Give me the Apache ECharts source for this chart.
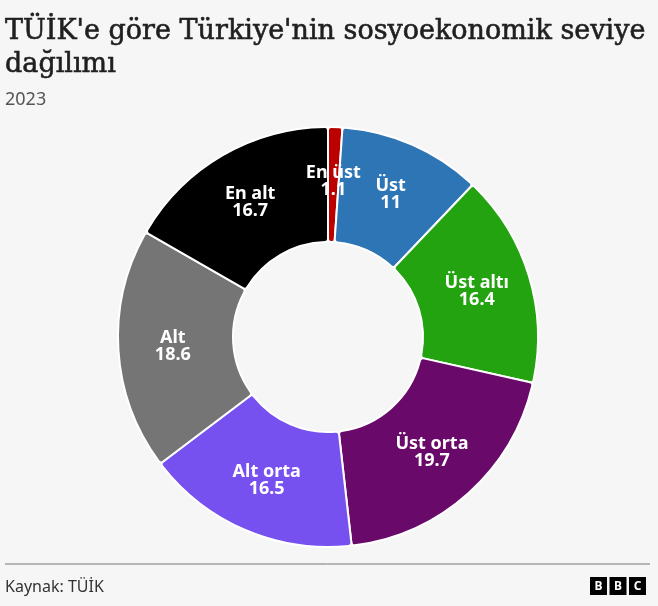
<!DOCTYPE html>
<html>
<head>
<meta charset="utf-8">
<script src="https://cdn.jsdelivr.net/npm/echarts@6/dist/echarts.min.js"></script>
<style>
html,body{margin:0;padding:0;background:#f6f6f6;}
#c{width:658px;height:606px;}
</style>
</head>
<body>
<div id="c"></div>
<script>
var categories = ['En üst', 'Üst', 'Üst altı', 'Üst orta', 'Alt orta', 'Alt', 'En alt'];
var values = [1.1, 11, 16.4, 19.7, 16.5, 18.6, 16.7];
var colors = ['#bb0000', '#2e75b6', '#22a30f', '#690a6b', '#7750f0', '#757575', '#000000'];

var chart = echarts.init(document.getElementById('c'));
var data = categories.map(function (c, i) {
  return { name: c, value: values[i], itemStyle: { color: colors[i] } };
});
var logo = [];
['B', 'B', 'C'].forEach(function (l, i) {
  var x = 590 + i * 19.5;
  logo.push({ type: 'rect', shape: { x: x, y: 577, width: 17, height: 18 }, style: { fill: '#000' } });
  logo.push({ type: 'text', x: x + 8.5, y: 586.5, style: { text: l, fill: '#fff', font: 'bold 12px "Noto Sans"', align: 'center', verticalAlign: 'middle' } });
});
chart.setOption({
  backgroundColor: '#f6f6f6',
  animation: false,
  title: [
    { text: "TÜİK'e göre Türkiye'nin sosyoekonomik seviye\ndağılımı", left: 0, top: 10,
      textStyle: { fontFamily: 'DejaVu Serif', fontSize: 27, fontWeight: 'normal', color: '#1f1f1f', lineHeight: 33,
        textBorderColor: '#1f1f1f', textBorderWidth: 0.6 } },
    { text: '2023', left: 0, top: 86,
      textStyle: { fontFamily: 'Noto Sans', fontSize: 18, fontWeight: 'normal', color: '#555' } }
  ],
  graphic: [
    { type: 'line', shape: { x1: 5, y1: 564, x2: 650, y2: 564 }, style: { stroke: '#777', lineWidth: 1 } },
    { type: 'text', x: 5, y: 587, style: { text: 'Kaynak: TÜİK', fill: '#333', font: '16px "Noto Sans"', verticalAlign: 'middle' } }
  ].concat(logo),
  series: [{
    type: 'pie',
    center: [328, 337],
    radius: [95, 210],
    startAngle: 90,
    clockwise: true,
    silent: true,
    itemStyle: { borderColor: '#ffffff', borderWidth: 2, borderRadius: 3 },
    label: {
      show: true,
      position: 'inside',
      formatter: function (p) { return p.name + '\n' + p.value; },
      color: '#fff',
      fontFamily: 'Noto Sans',
      fontWeight: 'bold',
      fontSize: 18,
      lineHeight: 17
    },
    labelLine: { show: false },
    data: data
  }]
});
</script>
</body>
</html>
